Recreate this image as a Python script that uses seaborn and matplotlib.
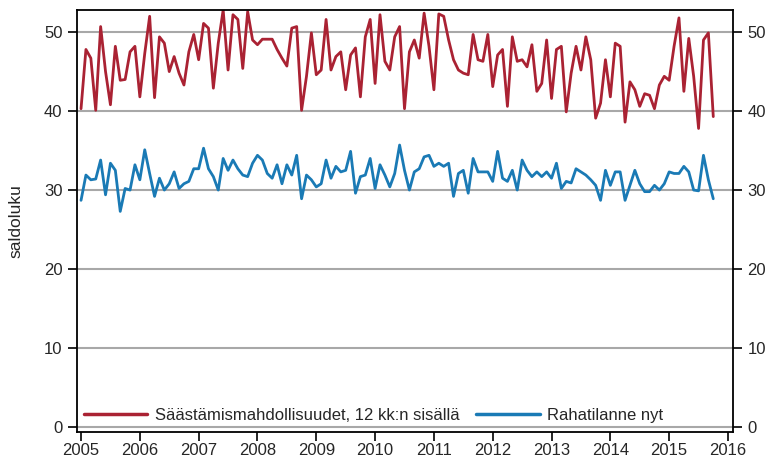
import numpy as np
import pandas as pd
import matplotlib
matplotlib.use("Agg")
import matplotlib.pyplot as plt
import seaborn as sns

sns.set_style("white")
plt.rcParams['font.family'] = ['Liberation Sans', 'DejaVu Sans']

# Kuukausittaiset saldoluvut 2005/01 - 2015/10
saastamis = [
    40.3, 47.8, 46.7, 40.1, 50.7, 45.0, 40.8, 48.2, 43.9, 44.0, 47.5, 48.2,
    41.8, 47.3, 52.0, 41.7, 49.4, 48.6, 45.0, 46.9, 44.8, 43.3, 47.5, 49.7,
    46.5, 51.1, 50.5, 42.9, 48.6, 52.8, 45.2, 52.2, 51.6, 45.4, 52.6, 49.0,
    48.4, 49.1, 49.1, 49.1, 47.8, 46.7, 45.7, 50.5, 50.7, 40.1, 44.4, 49.9,
    44.6, 45.2, 51.6, 45.2, 46.9, 47.5, 42.7, 47.1, 48.0, 41.8, 49.4, 51.6,
    43.5, 52.2, 46.3, 45.2, 49.4, 50.7, 40.3, 47.5, 49.0, 46.7, 52.4, 48.2,
    42.7, 52.3, 52.0, 49.0, 46.5, 45.2, 44.8, 44.6, 49.7, 46.5, 46.3, 49.7,
    43.1, 47.1, 47.8, 40.6, 49.4, 46.3, 46.5, 45.6, 48.4, 42.5, 43.5, 49.0,
    41.6, 47.8, 48.2, 39.9, 44.8, 48.2, 45.2, 49.4, 46.5, 39.1, 41.0, 46.5,
    41.8, 48.6, 48.2, 38.6, 43.7, 42.7, 40.6, 42.2, 42.0, 40.3, 43.3, 44.4,
    43.9, 48.2, 51.8, 42.5, 49.2, 44.4, 37.8, 49.0, 49.9, 39.3,
]
rahatilanne = [
    28.7, 31.9, 31.3, 31.4, 33.8, 29.4, 33.4, 32.5, 27.3, 30.2, 30.0, 33.2,
    31.3, 35.1, 32.1, 29.2, 31.5, 30.0, 30.8, 32.3, 30.2, 30.8, 31.1, 32.7,
    32.7, 35.3, 32.7, 31.7, 30.0, 34.0, 32.5, 33.8, 32.7, 31.9, 31.7, 33.4,
    34.4, 33.8, 32.1, 31.5, 33.2, 30.8, 33.2, 31.9, 34.4, 28.9, 31.9, 31.3,
    30.4, 30.8, 33.8, 31.5, 33.0, 32.3, 32.5, 34.9, 29.6, 31.7, 31.9, 34.0,
    30.2, 33.2, 31.9, 30.4, 32.1, 35.7, 32.5, 30.0, 32.3, 32.7, 34.2, 34.4,
    33.0, 33.4, 33.0, 33.4, 29.2, 32.1, 32.5, 29.6, 34.0, 32.3, 32.3, 32.3,
    31.1, 34.9, 31.5, 31.1, 32.5, 30.0, 33.8, 32.5, 31.7, 32.3, 31.7, 32.3,
    31.5, 33.4, 30.2, 31.1, 30.9, 32.7, 32.3, 31.9, 31.3, 30.6, 28.7, 32.5,
    30.6, 32.3, 32.3, 28.7, 30.6, 32.5, 30.8, 29.8, 29.8, 30.6, 30.0, 30.8,
    32.3, 32.1, 32.1, 33.0, 32.3, 30.0, 29.9, 34.4, 31.3, 28.9,
]
labels = ['Säästämismahdollisuudet, 12 kk:n sisällä', 'Rahatilanne nyt']
colors = ['#AA2233', '#1A7AB5']

start_year = 2005
time = start_year + np.arange(len(saastamis)) / 12.0
df = pd.DataFrame({
    'aika': np.concatenate([time, time]),
    'saldoluku': saastamis + rahatilanne,
    'sarja': [labels[0]] * len(saastamis) + [labels[1]] * len(rahatilanne),
})

fig = plt.figure(figsize=(7.68, 4.73), dpi=100)
ax = fig.add_axes([0.1003, 0.0867, 0.8541, 0.8922])

for y in range(0, 51, 10):
    ax.axhline(y, color='#A8A8A8', lw=1.5, zorder=0)

sns.lineplot(data=df, x='aika', y='saldoluku', hue='sarja', palette=colors,
             linewidth=2.0, ax=ax)

ax.set_xlim(2005 - 0.068, 2016 + 0.085)
ax.set_ylim(-0.63, 52.8)
ax.set_xticks(range(2005, 2017))
ax.set_yticks(range(0, 51, 10))
ax.set_xlabel('')
ax.set_ylabel('saldoluku', fontsize=12.5)
ax.yaxis.set_label_coords(-0.082, 0.5)
ax.tick_params(axis='both', direction='out', length=6.5, width=1.2, labelsize=12,
               color='black', pad=4)
ax.tick_params(axis='x', bottom=True, pad=1.5)
ax.tick_params(axis='y', right=True, labelright=True, left=True)
for sp in ax.spines.values():
    sp.set_color('black')
    sp.set_linewidth(1.3)

leg = ax.legend(loc='lower left', bbox_to_anchor=(-0.012, -0.014), ncol=2,
                frameon=False, fontsize=12, handlelength=3.8,
                columnspacing=1.0, handletextpad=0.45, title=None)
for line in leg.get_lines():
    line.set_linewidth(2.5)

plt.savefig('out.png', dpi=100)
